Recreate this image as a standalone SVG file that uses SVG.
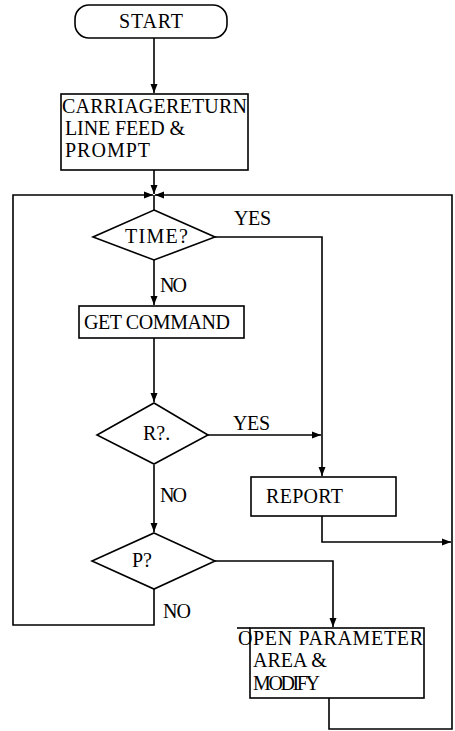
<svg xmlns="http://www.w3.org/2000/svg" width="455" height="731" viewBox="0 0 455 731">
<style>
.s{fill:none;stroke:#000;stroke-width:1.6;stroke-linejoin:miter}
.n{fill:#fff;stroke:#000;stroke-width:1.6}
.t{font-family:"Liberation Serif","Times New Roman",serif;font-size:20px;fill:#000}
.a{marker-end:url(#ah)}
</style>
<defs>
<marker id="ah" markerUnits="userSpaceOnUse" markerWidth="10" markerHeight="8" refX="9" refY="4" orient="auto">
<path d="M0,0.5 L9,4 L0,7.5 z" fill="#000"/>
</marker>
</defs>
<rect width="455" height="731" fill="#fff"/>
<g id="connectors">
<path class="s a" d="M154,38 V93"/>
<path class="s a" d="M154,170 V194"/>
<path class="s" d="M154,195 V210"/>
<path class="s a" d="M154,260 V305"/>
<path class="s a" d="M154,338 V402"/>
<path class="s a" d="M154,465 V532"/>
<path class="s a" d="M215,237 H322 V476"/>
<path class="s a" d="M208,435 H321"/>
<path class="s a" d="M322,516 V542 H451"/>
<path class="s a" d="M215,561 H333 V627"/>
<path class="s a" d="M154,589 V625 H13 V195 H153"/>
<path class="s a" d="M329,698 V729 H452 V195 H155"/>
</g>
<g id="start">
<rect class="n" x="75" y="5" width="152" height="33" rx="14" ry="14"/>
<text class="t" x="151" y="28" text-anchor="middle" textLength="64">START</text>
</g>
<g id="crlf">
<rect class="n" x="61" y="94" width="187" height="76"/>
<text class="t" x="62" y="113" textLength="185">CARRIAGERETURN</text>
<text class="t" x="65" y="135" textLength="120">LINE FEED &amp;</text>
<text class="t" x="65" y="157" textLength="85">PROMPT</text>
</g>
<g id="time">
<path class="n" d="M154,210 L215,237 L154,260 L93,237 Z"/>
<text class="t" x="125" y="243" textLength="63">TIME?</text>
<text class="t" x="234" y="225" textLength="37">YES</text>
<text class="t" x="160" y="292" textLength="27">NO</text>
</g>
<g id="getcmd">
<rect class="n" x="79" y="306" width="165" height="32"/>
<text class="t" x="84" y="329" textLength="146">GET COMMAND</text>
</g>
<g id="r">
<path class="n" d="M154,403 L208,435 L154,464 L97,435 Z"/>
<text class="t" x="143" y="440">R?.</text>
<text class="t" x="233" y="430" textLength="37">YES</text>
<text class="t" x="160" y="502" textLength="27">NO</text>
</g>
<g id="report">
<rect class="n" x="251" y="477" width="145" height="39"/>
<text class="t" x="266" y="503" textLength="77">REPORT</text>
</g>
<g id="p">
<path class="n" d="M154,533 L215,561 L154,589 L92,561 Z"/>
<text class="t" x="132" y="567">P?</text>
<text class="t" x="163" y="618" textLength="28">NO</text>
</g>
<g id="openparam">
<rect class="n" x="250" y="628" width="174" height="70"/>
<path class="s" d="M237,628 H250"/>
<text class="t" x="238" y="645" textLength="185">OPEN PARAMETER</text>
<text class="t" x="253" y="667">AREA &amp;</text>
<text class="t" x="253" y="690" textLength="67">MODIFY</text>
</g>
</svg>
